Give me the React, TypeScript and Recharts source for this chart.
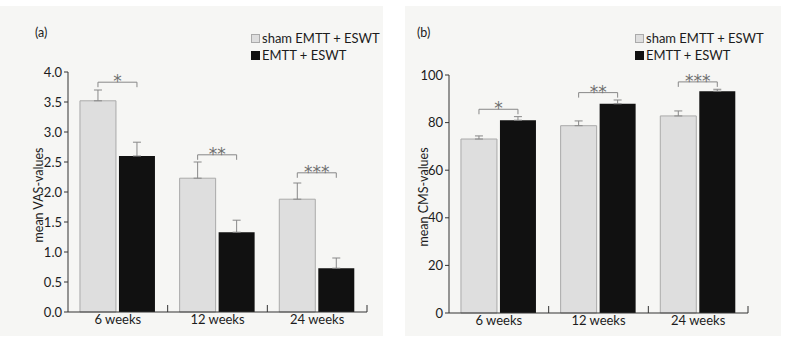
import { BarChart, Bar, XAxis, YAxis, ErrorBar, LabelList, Label } from "recharts";

const weeks = ["6 weeks", "12 weeks", "24 weeks"];
const stars = ["*", "**", "***"];

// panel (a) - VAS
const vasSham = [3.52, 2.23, 1.88];
const vasShamErr = [0.18, 0.27, 0.27];
const vasEmtt = [2.6, 1.33, 0.73];
const vasEmttErr = [0.23, 0.2, 0.17];
const vasBracket = [3.83, 2.62, 2.32];
const vasTicks = [0, 0.5, 1, 1.5, 2, 2.5, 3, 3.5, 4];

// panel (b) - CMS
const cmsSham = [73.1, 78.7, 82.8];
const cmsShamErr = [1.3, 2.0, 2.1];
const cmsEmtt = [81.0, 87.9, 93.2];
const cmsEmttErr = [1.5, 1.6, 0.8];
const cmsBracket = [85.6, 92.6, 97.1];
const cmsTicks = [0, 20, 40, 60, 80, 100];

const legendNames = ["sham EMTT + ESWT", "EMTT + ESWT"];

const SHAM = "#dedede";
const EMTT = "#111111";
const AXIS = "#333";
const TEXT = "#1c1c1c";

type PanelProps = {
  tag: string;
  yLabel: string;
  sham: number[];
  shamErr: number[];
  emtt: number[];
  emttErr: number[];
  bracket: number[];
  ticks: number[];
  digits: number;
  left: number;
  width: number;
  margin: { top: number; right: number; bottom: number; left: number };
  yAxisWidth: number;
  labelDx: number;
  tagX: number;
  legendX: number;
};

// category label plus a small upward tick at the right edge of the category
const WeekTick = (props: any) => {
  const { x, y, payload } = props;
  const half = payload && payload.offset ? payload.offset : 50;
  const axisY = y - 3;
  const bx = x + half;
  return (
    <g>
      <line x1={bx} y1={axisY} x2={bx} y2={axisY - 7} stroke={AXIS} strokeWidth={1} />
      <text x={x} y={y} dy="0.71em" textAnchor="middle" fontSize={13} fill={TEXT}>
        {payload.value}
      </text>
    </g>
  );
};

function Panel(p: PanelProps) {
  const data = weeks.map((w, i) => ({
    week: w,
    sham: p.sham[i],
    emtt: p.emtt[i],
    shamErr: [0, p.shamErr[i]],
    emttErr: [0, p.emttErr[i]],
  }));

  const renderBracket = (props: any) => {
    const vb = props.viewBox || props;
    const { x, y, width, height } = vb;
    const i = props.index;
    const perUnit = height / p.emtt[i];
    const base = y + height;
    const by = base - p.bracket[i] * perUnit;
    const x1 = x - 3 - width / 2;
    const x2 = x + width / 2;
    return (
      <g>
        <path
          d={`M${x1},${by + 5}V${by}H${x2}V${by + 5}`}
          fill="none"
          stroke="#888"
          strokeWidth={1}
        />
        <text
          x={(x1 + x2) / 2}
          y={by + 5}
          textAnchor="middle"
          fontSize={17}
          fontFamily="DejaVu Sans"
          fill="#707070"
        >
          {stars[i]}
        </text>
      </g>
    );
  };

  return (
    <div
      style={{
        position: "absolute",
        left: p.left,
        top: 6,
        width: p.width,
        height: 330,
        background: "#f6f6f4",
        fontFamily: "Lato",
        color: TEXT,
      }}
    >
      <div style={{ position: "absolute", left: p.tagX, top: 19, fontSize: 12.5 }}>{p.tag}</div>
      <div style={{ position: "absolute", left: p.legendX, top: 24, fontSize: 13, lineHeight: "17px" }}>
        {legendNames.map((n, i) => (
          <div key={n} style={{ display: "flex", alignItems: "center" }}>
            <span
              style={{
                display: "inline-block",
                width: 9,
                height: 9,
                marginRight: 2,
                background: i === 0 ? SHAM : EMTT,
                border: i === 0 ? "1px solid #aaa" : "1px solid #111",
                boxSizing: "border-box",
              }}
            />
            {n}
          </div>
        ))}
      </div>
      <BarChart
        width={p.width}
        height={330}
        data={data}
        margin={p.margin}
        barCategoryGap="12%"
        barGap={3}
      >
        <XAxis
          dataKey="week"
          stroke={AXIS}
          tickLine={false}
          tickSize={2}
          tickMargin={1}
          height={20}
          tick={<WeekTick />}
          interval={0}
        />
        <YAxis
          domain={[p.ticks[0], p.ticks[p.ticks.length - 1]]}
          ticks={p.ticks}
          interval={0}
          width={p.yAxisWidth}
          stroke={AXIS}
          tickSize={4}
          tick={{ fill: TEXT, fontSize: 13 }}
          tickFormatter={(v: number) => v.toFixed(p.digits)}
        >
          <Label
            content={(props: any) => {
              const vb = props.viewBox;
              const cx = vb.x + vb.width - p.labelDx;
              const cy = vb.y + vb.height / 2 + 3;
              return (
                <text
                  x={cx}
                  y={cy}
                  transform={`rotate(-90 ${cx} ${cy})`}
                  textAnchor="middle"
                  dominantBaseline="central"
                  fontSize={12.5}
                  fill={TEXT}
                >
                  {p.yLabel}
                </text>
              );
            }}
          />
        </YAxis>
        <Bar dataKey="sham" fill={SHAM} stroke="#aaa" strokeWidth={1} isAnimationActive={false}>
          <ErrorBar dataKey="shamErr" width={4} stroke="#888" strokeWidth={1} direction="y" />
        </Bar>
        <Bar dataKey="emtt" fill={EMTT} isAnimationActive={false}>
          <ErrorBar dataKey="emttErr" width={4} stroke="#888" strokeWidth={1} direction="y" />
          <LabelList dataKey="emtt" content={renderBracket} />
        </Bar>
      </BarChart>
    </div>
  );
}

export default function App() {
  return (
    <div style={{ position: "absolute", left: 0, top: 0, width: 808, height: 342, background: "#fff" }}>
      <Panel
        tag="(a)"
        yLabel="mean VAS-values"
        sham={vasSham}
        shamErr={vasShamErr}
        emtt={vasEmtt}
        emttErr={vasEmttErr}
        bracket={vasBracket}
        ticks={vasTicks}
        digits={1}
        left={0}
        width={383}
        margin={{ top: 66, right: 16, bottom: 4, left: 28 }}
        yAxisWidth={40}
        labelDx={30}
        tagX={35}
        legendX={251}
      />
      <Panel
        tag="(b)"
        yLabel="mean CMS-values"
        sham={cmsSham}
        shamErr={cmsShamErr}
        emtt={cmsEmtt}
        emttErr={cmsEmttErr}
        bracket={cmsBracket}
        ticks={cmsTicks}
        digits={0}
        left={405}
        width={376}
        margin={{ top: 69, right: 33, bottom: 3, left: 14 }}
        yAxisWidth={30}
        labelDx={26}
        tagX={12}
        legendX={230}
      />
    </div>
  );
}
